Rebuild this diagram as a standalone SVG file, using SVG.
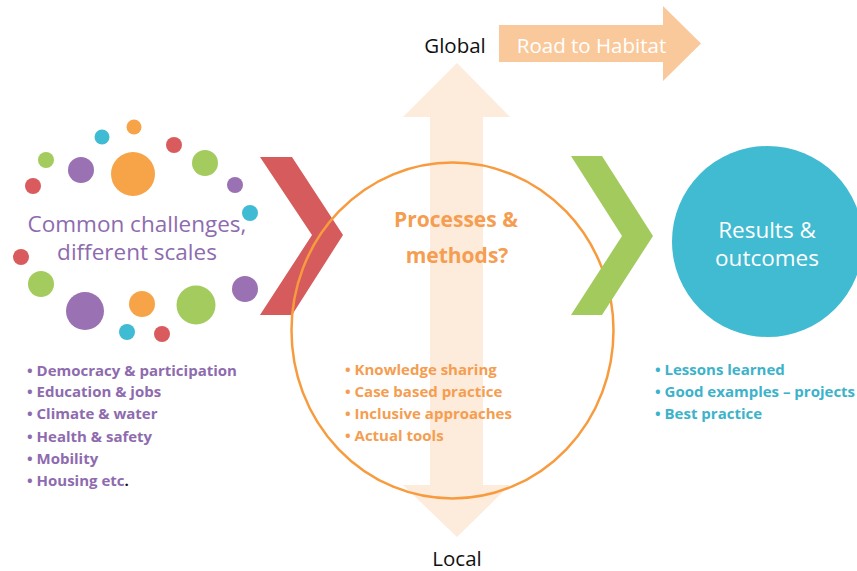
<svg xmlns="http://www.w3.org/2000/svg" width="857" height="571" viewBox="0 0 857 571">
<style>
.pu{fill:#9A71B2}.or{fill:#F7A448}.gr{fill:#A3CB5D}.te{fill:#3FBCD3}.rd{fill:#D95B5E}
text{font-family:"Open Sans","Liberation Sans",sans-serif}
.lst{font-weight:bold;font-size:15px}
.plist{fill:#8E6BAE}.olist{fill:#F59D50}.tlist{fill:#3DB2CB}
</style>
<rect width="857" height="571" fill="#fff"/>
<g id="vertical-arrow">
<polygon points="457,63 510,117 483,117 483,485 510,485 457,537 403,485 430,485 430,117 403,117" fill="#FDEBDC"/>
</g>
<g id="road-arrow">
<polygon points="499,25 663,25 663,6 701,43.5 663,81 663,62 499,62" fill="#FAC99B"/>
<text x="591.5" y="53" font-size="20.5" fill="#fff" text-anchor="middle">Road to Habitat</text>
</g>
<g id="global-label"><text x="455" y="53" font-size="20.5" fill="#111" text-anchor="middle">Global</text></g>
<g id="local-label"><text x="457" y="566" font-size="20.5" fill="#111" text-anchor="middle">Local</text></g>
<g id="challenges">
<circle class="or" cx="134" cy="127" r="7.5"/>
<circle class="te" cx="102" cy="137" r="7.5"/>
<circle class="rd" cx="174" cy="145" r="8"/>
<circle class="gr" cx="46" cy="160" r="8"/>
<circle class="pu" cx="81" cy="170" r="13"/>
<circle class="or" cx="133" cy="174" r="22"/>
<circle class="gr" cx="205" cy="163" r="13"/>
<circle class="rd" cx="33" cy="186" r="8"/>
<circle class="pu" cx="235" cy="185" r="8"/>
<circle class="te" cx="250" cy="213" r="8"/>
<circle class="rd" cx="21" cy="257" r="8"/>
<circle class="gr" cx="41" cy="284" r="13"/>
<circle class="pu" cx="85" cy="311" r="19"/>
<circle class="or" cx="142" cy="304" r="13"/>
<circle class="gr" cx="196" cy="305" r="19.5"/>
<circle class="pu" cx="245" cy="289" r="13"/>
<circle class="te" cx="127" cy="332" r="8"/>
<circle class="rd" cx="162" cy="334" r="8"/>
<text x="137" y="232" font-size="22.5" fill="#8E6BAE" text-anchor="middle">Common challenges,</text>
<text x="137" y="260" font-size="22.5" fill="#8E6BAE" text-anchor="middle">different scales</text>
</g>
<g id="challenges-list" class="lst plist">
<text x="27" y="376">• Democracy &amp; participation</text>
<text x="27" y="397">• Education &amp; jobs</text>
<text x="27" y="419">• Climate &amp; water</text>
<text x="27" y="442">• Health &amp; safety</text>
<text x="27" y="464">• Mobility</text>
<text x="27" y="486">• Housing etc<tspan fill="#111">.</tspan></text>
</g>
<g id="red-chevron">
<polygon points="260,157 292,157 343,235 292,315 260,315 312,235" fill="#D65B5C"/>
</g>
<g id="processes">
<ellipse cx="452.5" cy="330.5" rx="161" ry="168" fill="none" stroke="#F79B3E" stroke-width="2.5"/>
<text x="456" y="227" font-size="21" font-weight="bold" fill="#F59D50" text-anchor="middle">Processes &amp;</text>
<text x="457" y="263" font-size="21" font-weight="bold" fill="#F59D50" text-anchor="middle">methods?</text>
</g>
<g id="processes-list" class="lst olist">
<text x="345" y="375">• Knowledge sharing</text>
<text x="345" y="397">• Case based practice</text>
<text x="345" y="419">• Inclusive approaches</text>
<text x="345" y="441">• Actual tools</text>
</g>
<g id="green-chevron">
<polygon points="571,156 602,156 653,236 602,315 571,315 622,236" fill="#A3CA5C"/>
</g>
<g id="results">
<circle cx="767.5" cy="241.5" r="95.5" fill="#40BBD2"/>
<text x="767" y="238" font-size="22.5" fill="#fff" text-anchor="middle">Results &amp;</text>
<text x="767" y="266" font-size="22.5" fill="#fff" text-anchor="middle">outcomes</text>
</g>
<g id="results-list" class="lst tlist">
<text x="655" y="375">• Lessons learned</text>
<text x="655" y="397">• Good examples – projects</text>
<text x="655" y="419">• Best practice</text>
</g>
<g id="connectors"></g>
</svg>
